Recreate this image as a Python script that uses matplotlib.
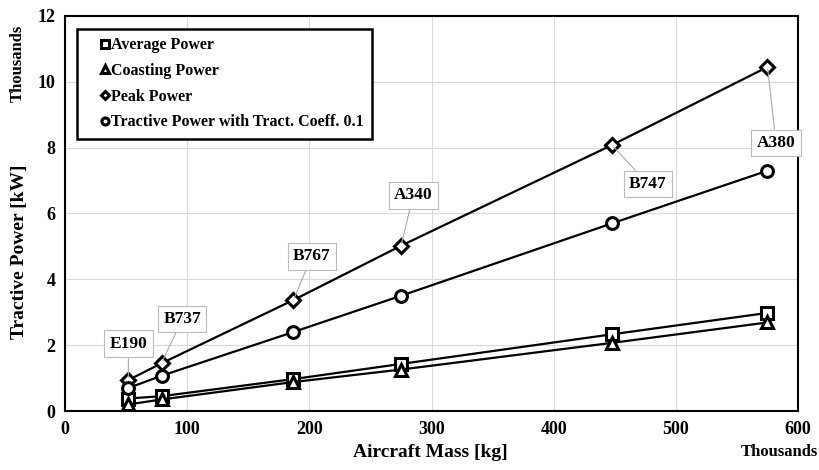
import matplotlib.pyplot as plt

plt.rcParams['font.family'] = ['Liberation Serif', 'DejaVu Serif']
plt.rcParams['font.weight'] = 'bold'

aircraft = ["E190", "B737", "B767", "A340", "B747", "A380"]
mass = [51.8, 79.0, 186.9, 275.0, 447.7, 575.0]  # thousands of kg

avg_power = [0.38, 0.45, 0.97, 1.43, 2.33, 2.98]
coast_power = [0.20, 0.35, 0.88, 1.26, 2.07, 2.69]
peak_power = [0.94, 1.45, 3.37, 5.02, 8.08, 10.45]
tract_power = [0.70, 1.07, 2.40, 3.50, 5.70, 7.30]

label_pos = [(52, 2.05), (96, 2.8), (202, 4.7), (285, 6.55), (477, 6.9), (582, 8.15)]

fig = plt.figure(figsize=(8.19, 4.70), dpi=100)
ax = fig.add_axes([0.0794, 0.1255, 0.895, 0.8405])

series = [
    (avg_power, "s", "Average Power"),
    (coast_power, "^", "Coasting Power"),
    (peak_power, "D", "Peak Power"),
    (tract_power, "o", "Tractive Power with Tract. Coeff. 0.1"),
]
for vals, mk, name in series:
    ms = 7 if mk == "D" else 8.5
    ax.plot(mass, vals, color="black", lw=1.6, marker=mk, ms=ms,
            mfc="white", mec="black", mew=2.2, label=name)

for name, x, y, pos in zip(aircraft, mass, peak_power, label_pos):
    ax.annotate(name, xy=(x, y), xytext=pos, ha="center", va="center",
                fontsize=12.5, fontweight="bold",
                bbox=dict(boxstyle="square,pad=0.3", fc="white", ec="#bbbbbb", lw=0.8),
                arrowprops=dict(arrowstyle="-", color="#aaaaaa", lw=0.8,
                                shrinkA=0, shrinkB=2))

ax.set_xlim(0, 600)
ax.set_ylim(0, 12)
ax.set_xticks(range(0, 601, 100))
ax.set_yticks(range(0, 13, 2))
ax.grid(True, color="#d9d9d9", lw=0.8)
ax.set_axisbelow(True)
ax.tick_params(length=0, labelsize=13, pad=7)
for s in ax.spines.values():
    s.set_linewidth(1.5)
    s.set_color("black")

leg = ax.legend(loc="upper left", bbox_to_anchor=(0.006, 0.988), fontsize=11.5,
                handlelength=2.4, handletextpad=-0.85, markerscale=0.6,
                borderpad=0.55, labelspacing=0.6, fancybox=False,
                framealpha=1, edgecolor="black")
leg.get_frame().set_linewidth(1.8)
for h in leg.legend_handles:
    h.set_linestyle("none")

fig.text(0.526, 0.038, "Aircraft Mass [kg]", ha="center", va="center", fontsize=14, fontweight="bold")
fig.text(0.952, 0.038, "Thousands", ha="center", va="center", fontsize=12, fontweight="bold")
fig.text(0.024, 0.464, "Tractive Power [kW]", ha="center", va="center", rotation=90,
         fontsize=14, fontweight="bold")
fig.text(0.022, 0.866, "Thousands", ha="center", va="center", rotation=90,
         fontsize=12, fontweight="bold")

fig.savefig("out.png", dpi=100)
